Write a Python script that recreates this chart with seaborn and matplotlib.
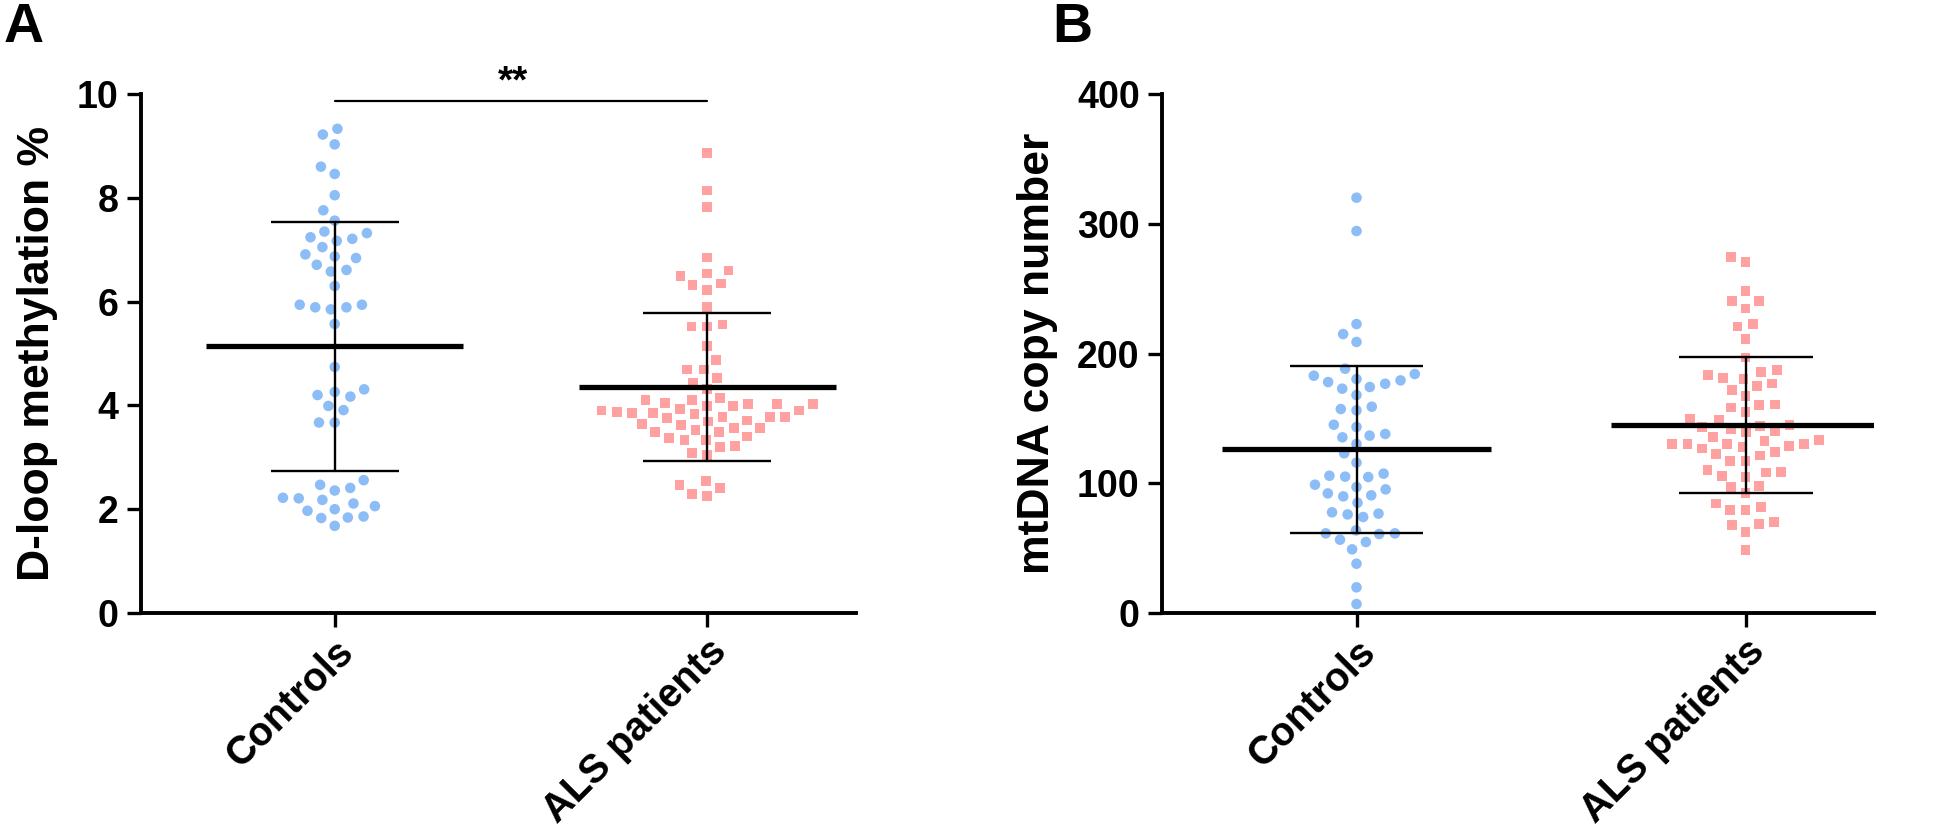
import numpy as np
import pandas as pd
import matplotlib
matplotlib.use("Agg")
import matplotlib.pyplot as plt
import seaborn as sns

# data
groups = ["Controls", "ALS patients"]

dloop_controls = [9.33, 9.22, 9.03, 8.60, 8.46, 8.05, 7.76, 7.56, 7.35, 7.32,
                  7.24, 7.21, 7.17, 7.05, 6.91, 6.87, 6.84, 6.71, 6.61, 6.58,
                  6.30, 5.94, 5.94, 5.89, 5.89, 5.85, 5.57, 4.74, 4.31, 4.26,
                  4.20, 4.17, 3.99, 3.91, 3.67, 3.67, 2.56, 2.47, 2.41, 2.36,
                  2.22, 2.21, 2.18, 2.11, 2.06, 2.00, 1.97, 1.86, 1.84, 1.83,
                  1.68]

dloop_als = [8.87, 8.14, 7.82, 6.85, 6.60, 6.54, 6.50, 6.35, 6.32, 6.23,
             5.90, 5.56, 5.52, 5.52, 5.15, 4.87, 4.69, 4.69, 4.53, 4.43,
             4.31, 4.14, 4.11, 4.11, 4.04, 4.03, 4.03, 4.03, 3.99, 3.99,
             3.93, 3.90, 3.90, 3.88, 3.86, 3.86, 3.83, 3.78, 3.78, 3.78,
             3.76, 3.71, 3.69, 3.64, 3.62, 3.56, 3.56, 3.53, 3.49, 3.49,
             3.40, 3.37, 3.33, 3.33, 3.22, 3.20, 3.08, 3.04, 2.54, 2.47,
             2.41, 2.30, 2.25]

mtdna_controls = [320.1, 294.4, 222.7, 215.0, 208.9, 188.3, 184.2, 182.9, 180.3, 179.3,
                  178.0, 176.7, 174.2, 172.9, 168.0, 159.0, 157.2, 156.2, 145.1, 143.4,
                  138.0, 136.7, 135.4, 130.3, 123.1, 115.9, 107.4, 105.8, 105.1, 104.8,
                  98.9, 97.1, 95.3, 92.2, 90.7, 89.9, 85.0, 77.6, 76.6, 76.0,
                  74.0, 63.7, 61.4, 61.4, 60.9, 56.5, 54.7, 49.1, 38.0, 19.8,
                  6.9]

mtdna_als = [274.4, 270.8, 248.4, 240.2, 240.2, 234.6, 222.7, 220.9, 211.2, 197.0,
             187.5, 185.7, 183.2, 181.4, 180.3, 176.8, 174.7, 172.1, 167.0, 160.6,
             160.3, 158.5, 154.9, 150.0, 149.0, 144.9, 144.4, 143.1, 142.1, 140.5,
             139.2, 135.4, 133.3, 132.3, 130.5, 130.5, 130.5, 130.5, 129.0, 128.2,
             126.9, 124.1, 122.5, 121.5, 117.4, 117.1, 110.4, 108.7, 108.4, 105.8,
             105.1, 98.1, 96.9, 92.7, 84.5, 81.5, 79.6, 79.6, 70.4, 68.4,
             67.8, 62.7, 48.8]

blue = "#8DBDF6"
pink = "#FFA1A1"

sns.set_style("ticks")
plt.rcParams["font.family"] = ["Liberation Sans", "DejaVu Sans"]
plt.rcParams["font.weight"] = "bold"
plt.rcParams["axes.labelweight"] = "bold"
for key in ["text.color", "axes.labelcolor", "xtick.color", "ytick.color", "axes.edgecolor"]:
    plt.rcParams[key] = "black"


def draw_panel(ax, ctrl, als, ylabel, ymax, ystep, xlim):
    df = pd.DataFrame({
        "group": [groups[0]] * len(ctrl) + [groups[1]] * len(als),
        "value": list(ctrl) + list(als)
    })

    # invisible edge widens the swarm spacing (GraphPad-like layout)
    sns.swarmplot(
        data=df[df["group"] == groups[0]],
        x="group", y="value", order=groups,
        color=blue, marker="o", size=7.6, linewidth=3.2,
        ax=ax, zorder=2
    )
    sns.swarmplot(
        data=df[df["group"] == groups[1]],
        x="group", y="value", order=groups,
        color=pink, marker="s", size=7.0, linewidth=3.6,
        ax=ax, zorder=2
    )
    for coll in ax.collections:
        coll.set_edgecolor("none")

    # mean and SD
    for i, g in enumerate(groups):
        vals = df.loc[df["group"] == g, "value"].to_numpy()
        m = vals.mean()
        sd = vals.std(ddof=1)
        ax.plot([i - 0.345, i + 0.345], [m, m], color="black", lw=3.8,
                solid_capstyle="butt", zorder=4)
        ax.plot([i, i], [m - sd, m + sd], color="black", lw=1.7, zorder=4)
        for y in (m - sd, m + sd):
            ax.plot([i - 0.172, i + 0.172], [y, y], color="black", lw=1.7,
                    solid_capstyle="butt", zorder=4)

    ax.set_xlim(*xlim)
    ax.set_ylim(0, ymax)
    ax.set_yticks(np.arange(0, ymax + ystep / 2, ystep))
    ax.set_xlabel("")
    ax.set_ylabel(ylabel, fontsize=32, fontweight="bold", labelpad=14)

    for side in ["top", "right"]:
        ax.spines[side].set_visible(False)
    for side in ["left", "bottom"]:
        ax.spines[side].set_linewidth(2.8)

    ax.tick_params(axis="both", length=10, width=2.4, pad=6, labelsize=27)
    ax.tick_params(axis="x", pad=4)
    ax.set_xticks([0, 1])
    ax.set_xticklabels(groups, rotation=45, ha="right", va="top",
                       rotation_mode="anchor", fontsize=28.5, fontweight="bold")
    for lbl in ax.get_yticklabels():
        lbl.set_fontweight("bold")


fig = plt.figure(figsize=(19.46, 8.32), dpi=100)

ax1 = fig.add_axes([0.0725, 0.2632, 0.3674, 0.6238])
ax2 = fig.add_axes([0.5971, 0.2632, 0.3659, 0.6238])

draw_panel(ax1, dloop_controls, dloop_als, "D-loop methylation %", 10, 2, (-0.52, 1.40))
draw_panel(ax2, mtdna_controls, mtdna_als, "mtDNA copy number", 400, 100, (-0.50, 1.33))

# significance bar
bar_y = 9.87
ax1.plot([0, 1], [bar_y, bar_y], color="black", lw=1.6, clip_on=False)
ax1.text(0.48, bar_y + 0.15, "**", ha="center", va="baseline",
         fontsize=28, fontweight="bold", clip_on=False)

fig.text(0.002, 0.998, "A", fontsize=40, fontweight="bold", ha="left", va="top")
fig.text(0.5406, 0.998, "B", fontsize=40, fontweight="bold", ha="left", va="top")

plt.savefig("out.png", dpi=100)
